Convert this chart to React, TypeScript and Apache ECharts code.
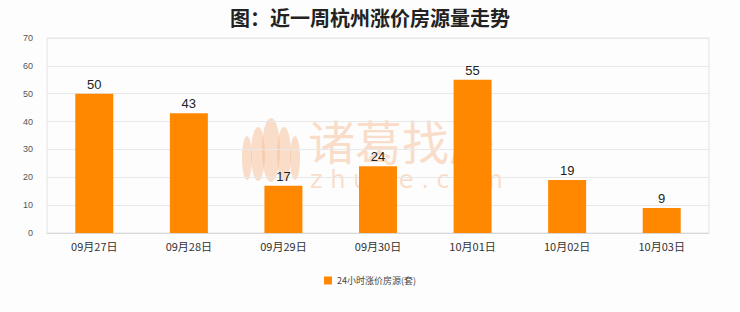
import React, { useEffect, useRef } from "react";
import * as echarts from "echarts";

const categories = ["09月27日", "09月28日", "09月29日", "09月30日", "10月01日", "10月02日", "10月03日"];
const values = [50, 43, 17, 24, 55, 19, 9];
const seriesName = "24小时涨价房源(套)";
const titleText = "图：近一周杭州涨价房源量走势";

export default function App() {
  const ref = useRef<HTMLDivElement>(null);
  useEffect(() => {
    document.body.style.margin = "0";
    const chart = echarts.init(ref.current!, null, { renderer: "svg" });
    const wm = "rgba(245,190,150,0.5)";
    chart.setOption({
      animation: false,
      backgroundColor: "#fdfdfd",
      title: {
        text: titleText,
        left: "center",
        top: 2,
        textStyle: { fontSize: 20, fontWeight: "bold", color: "#222", fontFamily: "Noto Sans CJK SC" },
      },
      graphic: [
        {
          type: "group",
          left: 242,
          top: 118,
          silent: true,
          z: -1,
          children: [
            { type: "ellipse", shape: { cx: 29, cy: 32, rx: 9, ry: 32 }, style: { fill: wm } },
            { type: "ellipse", shape: { cx: 16, cy: 36, rx: 7, ry: 27 }, style: { fill: wm } },
            { type: "ellipse", shape: { cx: 42, cy: 36, rx: 7, ry: 27 }, style: { fill: wm } },
            { type: "ellipse", shape: { cx: 5, cy: 40, rx: 5, ry: 22 }, style: { fill: wm } },
            { type: "ellipse", shape: { cx: 53, cy: 40, rx: 5, ry: 22 }, style: { fill: wm } },
          ],
        },
        {
          type: "text",
          left: 308,
          top: 116,
          silent: true,
          z: -1,
          style: { text: "诸葛找房", fontSize: 47, fill: wm, fontFamily: "Noto Sans CJK SC" },
        },
        {
          type: "text",
          left: 310,
          top: 168,
          silent: true,
          z: -1,
          style: { text: "z h u g e . c o m", fontSize: 24, fill: wm, fontFamily: "DejaVu Sans" },
        },
      ],
      legend: {
        bottom: 22,
        left: "center",
        itemWidth: 8,
        itemHeight: 8,
        icon: "rect",
        textStyle: { fontSize: 9, color: "#444", fontFamily: "Noto Sans CJK SC" },
        data: [seriesName],
      },
      grid: {
        left: 47,
        right: 31,
        top: 38,
        bottom: 79,
        show: true,
        borderColor: "#e4e4e4",
        borderWidth: 1,
      },
      xAxis: {
        type: "category",
        data: categories,
        axisLine: { lineStyle: { color: "#d8d8d8" } },
        axisTick: { show: false },
        axisLabel: { fontSize: 11, color: "#333", margin: 7, fontFamily: "Noto Sans CJK SC" },
      },
      yAxis: {
        type: "value",
        min: 0,
        max: 70,
        interval: 10,
        axisLine: { show: false },
        axisTick: { show: false },
        axisLabel: { fontSize: 9, color: "#555", margin: 14 },
        splitLine: { lineStyle: { color: "#e8e8e8" } },
      },
      series: [
        {
          name: seriesName,
          type: "bar",
          data: values,
          barWidth: 38,
          itemStyle: { color: "#ff8800" },
          label: { show: true, position: "top", fontSize: 13, color: "#222", distance: 3 },
        },
      ],
    });
    return () => chart.dispose();
  }, []);
  return <div ref={ref} style={{ width: 740, height: 312 }} />;
}
